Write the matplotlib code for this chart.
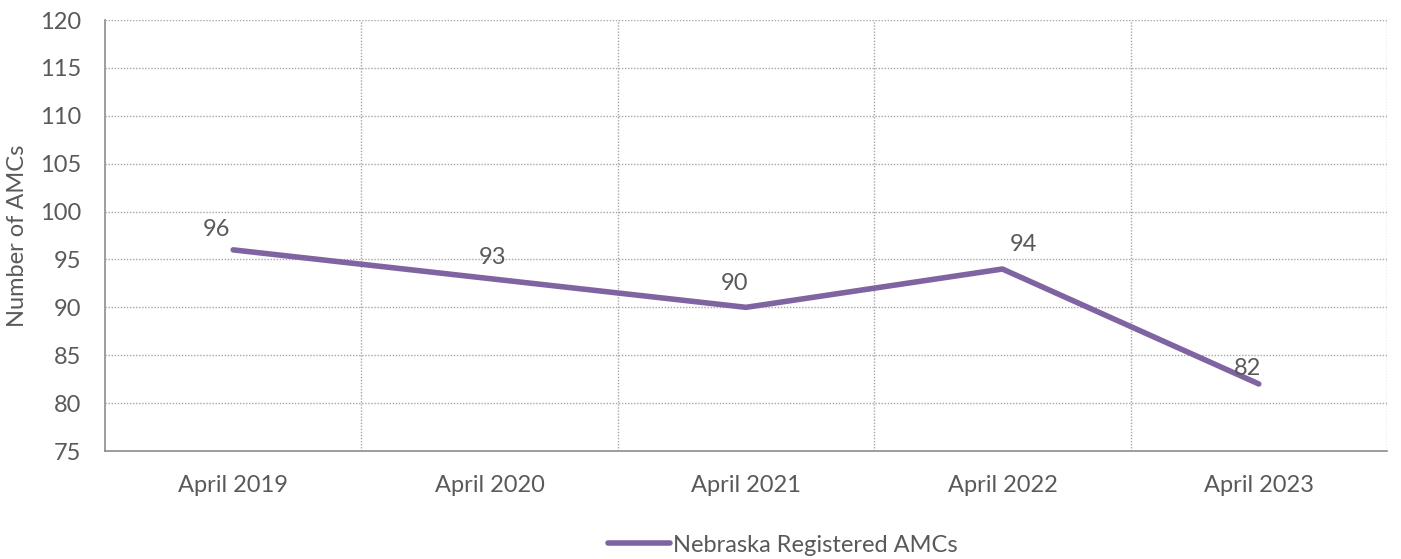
import matplotlib
matplotlib.use("Agg")
import matplotlib.pyplot as plt
from matplotlib.lines import Line2D

categories = ["April 2019", "April 2020", "April 2021", "April 2022", "April 2023"]
values = [96, 93, 90, 94, 82]
series_name = "Nebraska Registered AMCs"
y_ticks = list(range(75, 121, 5))

label_offsets = [(-12, 15), (2, 15), (-8, 17), (15, 18), (-8, 11)]

plt.rcParams['font.family'] = ['Lato', 'DejaVu Sans']
color = "#8064A2"
text_color = "#595959"
grid_color = "#A6A6A6"
fs = 17

fig = plt.figure(figsize=(14.01, 5.59), dpi=100)
ax = fig.add_axes([105/1401, 1-451/559, (1387-105)/1401, (451-20)/559])

x = list(range(len(categories)))
ax.plot(x, values, color=color, lw=4, solid_capstyle='round', zorder=3)
for xi, v, off in zip(x, values, label_offsets):
    ax.annotate(str(v), (xi, v), xytext=off, textcoords='offset points',
                ha='center', va='center', fontsize=fs, color=text_color, zorder=4)

ax.set_xlim(-0.5, len(categories) - 0.5)
ax.set_ylim(75, 120)
ax.set_yticks(y_ticks)
ax.set_xticks(x)
ax.set_xticklabels(categories)
for b in [i + 0.5 for i in range(len(categories))]:
    ax.axvline(b, color=grid_color, lw=1, ls=(0, (1, 1.2)), zorder=1)
for t in y_ticks[1:]:
    ax.axhline(t, color=grid_color, lw=1, ls=(0, (1, 1.2)), zorder=1)

for s in ['top', 'right']:
    ax.spines[s].set_visible(False)
for s in ['left', 'bottom']:
    ax.spines[s].set_color("#8C8C8C")
    ax.spines[s].set_linewidth(1.2)
ax.tick_params(axis='both', length=0, labelsize=fs, colors=text_color)
ax.tick_params(axis='y', pad=17)
ax.tick_params(axis='x', pad=17)
ax.set_ylabel("Number of AMCs", fontsize=fs, color=text_color, labelpad=9)

handle = Line2D([], [], color=color, lw=4, solid_capstyle='round')
fig.legend([handle], [series_name], loc='center', bbox_to_anchor=(783/1401, 1-545/559),
           frameon=False, fontsize=fs, labelcolor=text_color, handlelength=2.6,
           handletextpad=0.15)

fig.savefig("out.png", dpi=100)
